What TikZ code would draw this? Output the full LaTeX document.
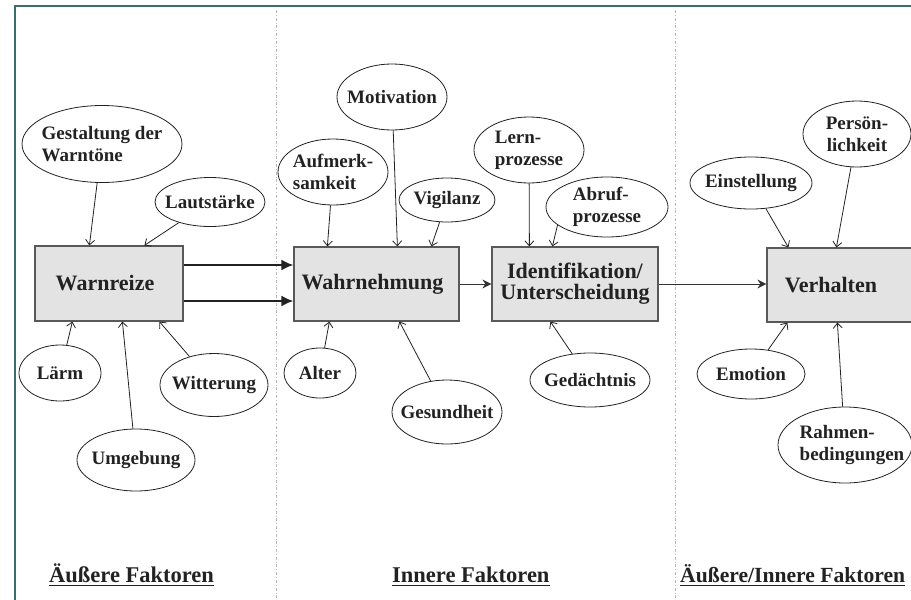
\documentclass[tikz,border=0pt]{standalone}
\usepackage{fontspec}
\setmainfont{Liberation Serif}
\usetikzlibrary{arrows.meta,shapes.geometric}
\definecolor{ink}{HTML}{222222}
\definecolor{framecol}{HTML}{3C6E6E}
\begin{document}
\begin{tikzpicture}[x=1pt,y=-1pt,
  font=\bfseries\fontsize{19}{22}\selectfont, text=ink,
  ell/.style={ellipse, draw=ink, line width=0.8pt, inner xsep=-30pt, inner ysep=-15pt},
  bx/.style={rectangle, draw=gray!70!black, line width=1.2pt, fill=gray!22, inner sep=0pt, font=\bfseries\fontsize{22}{21}\selectfont},
  arr/.style={draw=ink, line width=0.8pt, -{Straight Barb[length=5pt,width=9pt]}},
  fatarr/.style={draw=ink, line width=2pt, -{Latex[length=12pt,width=11pt]}},
  slimarr/.style={draw=gray!40!black, line width=1pt, -{Stealth[length=9pt,width=9pt,inset=3pt]}},
  divider/.style={draw=gray!55, line width=0.7pt, dash dot},
  foot/.style={font=\bfseries\fontsize{22.5}{24}\selectfont, anchor=base west, inner sep=0pt},
  uline/.style={draw=ink, line width=1.4pt}
]
\useasboundingbox (0,0) rectangle (911,600);
\clip (0,0) rectangle (911,600);

% frame and dividers
\draw[framecol, line width=2pt] (14.5,600) -- (14.5,6) -- (911,6);
\draw[divider] (276,10) -- (276,600);
\draw[divider] (675,10) -- (675,600);

% boxes
\node[bx, minimum width=148pt, minimum height=75pt] (warn) at (109,283.5) {\hspace*{-8pt}Warnreize};
\node[bx, minimum width=165pt, minimum height=74pt] (wahr) at (376.5,284) {\hspace*{-8pt}Wahrnehmung};
\node[bx, minimum width=166pt, minimum height=74pt, align=center] (ident) at (575,284) {Identifikation/\\Unterscheidung};
\node[bx, minimum width=160pt, minimum height=74pt] (verh) at (847,285) {\hspace*{-32pt}Verhalten};

% ellipses
\node[ell, minimum width=160pt, minimum height=77pt, align=left] (gest) at (102,144) {Gestaltung der\\Warntöne};
\node[ell, minimum width=110pt, minimum height=49pt] (laut) at (210,202) {Lautstärke};
\node[ell, minimum width=82pt, minimum height=56pt] (laerm) at (60,373) {Lärm};
\node[ell, minimum width=118pt, minimum height=62pt] (umg) at (136,460) {Umgebung};
\node[ell, minimum width=108pt, minimum height=63pt] (witt) at (214,385) {Witterung};
\node[ell, minimum width=110pt, minimum height=66pt] (motiv) at (392,97) {Motivation};
\node[ell, minimum width=110pt, minimum height=66pt, align=left] (aufm) at (333,172) {Aufmerk-\\samkeit};
\node[ell, minimum width=96pt, minimum height=44pt] (vigi) at (447,200) {Vigilanz};
\node[ell, minimum width=110pt, minimum height=66pt, align=left] (lern) at (529,150) {Lern-\\prozesse};
\node[ell, minimum width=122pt, minimum height=60pt, align=left] (abruf) at (607,207) {Abruf-\\prozesse};
\node[ell, minimum width=122pt, minimum height=52pt] (einst) at (751,183) {Einstellung};
\node[ell, minimum width=108pt, minimum height=66pt, align=center] (pers) at (857,134) {Persön-\\lichkeit};
\node[ell, minimum width=72pt, minimum height=50pt] (alter) at (320,373) {Alter};
\node[ell, minimum width=110pt, minimum height=64pt] (gesund) at (447,412) {Gesundheit};
\node[ell, minimum width=120pt, minimum height=54pt] (gedae) at (590,380) {Gedächtnis};
\node[ell, minimum width=108pt, minimum height=50pt] (emot) at (751,374) {Emotion};
\node[ell, minimum width=134pt, minimum height=76pt, align=left] (rahmen) at (845,445) {\hspace*{14pt}Rahmen-\\\hspace*{14pt}bedingungen};

% connectors: Warnreize
\draw[arr] (gest) -- ([xshift=55pt]warn.north west);
\draw[arr] (laut) -- ([xshift=110pt]warn.north west);
\draw[arr] (laerm) -- ([xshift=38pt]warn.south west);
\draw[arr] (umg) -- ([xshift=88pt]warn.south west);
\draw[arr] (witt) -- ([xshift=125pt]warn.south west);
\draw[fatarr] ([yshift=18.5pt]warn.east) -- ([yshift=19pt]wahr.west);
\draw[fatarr] ([yshift=-17.5pt]warn.east) -- ([yshift=-17pt]wahr.west);

% Wahrnehmung
\draw[arr] (aufm) -- ([xshift=34pt]wahr.north west);
\draw[arr] (motiv) -- ([xshift=104pt]wahr.north west);
\draw[arr] (vigi) -- ([xshift=138pt]wahr.north west);
\draw[arr] (alter) -- ([xshift=36pt]wahr.south west);
\draw[arr] (gesund) -- ([xshift=106pt]wahr.south west);
\draw[slimarr] (wahr.east) -- (ident.west);

% Identifikation
\draw[arr] (lern) -- ([xshift=38pt]ident.north west);
\draw[arr] (abruf.200) -- ([xshift=61pt]ident.north west);
\draw[arr] (gedae) -- ([xshift=59pt]ident.south west);
\draw[slimarr] (ident.east) -- (ident.east -| verh.west);

% Verhalten
\draw[arr] (einst) -- ([xshift=22pt]verh.north west);
\draw[arr] (pers) -- ([xshift=70pt]verh.north west);
\draw[arr] (emot) -- ([xshift=21pt]verh.south west);
\draw[arr] (rahmen) -- ([xshift=71pt]verh.south west);

% footers
\node[foot] (f1) at (49,582) {Äußere Faktoren};
\node[foot] (f2) at (392,582) {Innere Faktoren};
\node[foot, font=\bfseries\fontsize{21.6}{24}\selectfont] (f3) at (680,582) {Äußere/Innere Faktoren};
\draw[uline] ([yshift=-3.5pt]f1.base west) -- ([yshift=-3.5pt]f1.base east);
\draw[uline] ([yshift=-3.5pt]f2.base west) -- ([yshift=-3.5pt]f2.base east);
\draw[uline] ([yshift=-3.5pt]f3.base west) -- ([yshift=-3.5pt]f3.base east);
\end{tikzpicture}
\end{document}
